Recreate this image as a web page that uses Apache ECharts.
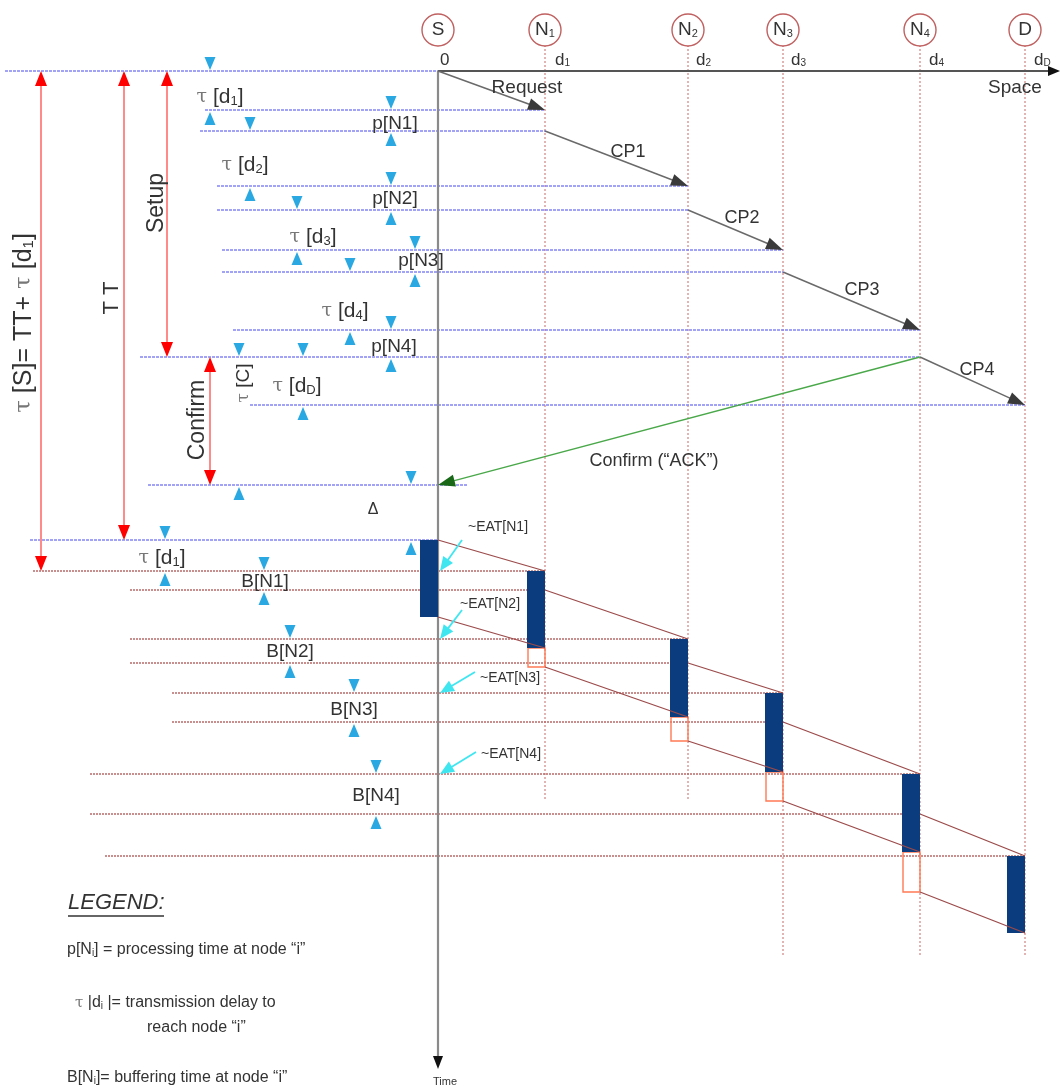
<!DOCTYPE html>
<html>
<head>
<meta charset="utf-8">
<script src="https://cdn.jsdelivr.net/npm/echarts@6.0.0/dist/echarts.min.js"></script>
<style>
html,body{margin:0;padding:0;background:#ffffff;}
#chart{width:1061px;height:1091px;}
</style>
</head>
<body>
<div id="chart"></div>
<script>
// ================= DATA (space units along x, time units along y) =================
const nodeNames   = ['S', 'N{s|1}', 'N{s|2}', 'N{s|3}', 'N{s|4}', 'D'];
const distLabels  = ['0', 'd{s|1}', 'd{s|2}', 'd{s|3}', 'd{s|4}', 'd{s|D}'];
const nodeDist    = [0, 107, 250, 345, 482, 587];
const nodeLineEnd = [997, 729, 729, 884, 884, 884];

// call set-up phase
const setupDepart = [0, 60, 139, 201, 286];    // S..N4 : message leaves the node
const setupArrive = [39, 115, 179, 259, 334];  // N1..D : message reaches the node
const setupLabels = ['Request', 'CP1', 'CP2', 'CP3', 'CP4'];
const ackSent     = 286;
const ackArrive   = 414;
const ackLabel    = 'Confirm (“ACK”)';
const ttEnd       = 469;
const tauSEnd     = 500;

// data transfer phase
const burstStart  = [469, 500, 568, 622, 703, 785];
const burstEnd    = [546, 577, 646, 701, 781, 862];
const buffering   = [0, 19, 24, 29, 40, 0];
const dataDepart  = [469, 519, 592, 651, 743];

// labels
const tauLabels   = ['{t|τ} [d{s|1}]', '{t|τ} [d{s|2}]', '{t|τ} [d{s|3}]', '{t|τ} [d{s|4}]', '{t|τ} [d{s|D}]'];
const procLabels  = ['p[N1]', 'p[N2]', 'p[N3]', 'p[N4]'];
const bufLabels   = ['B[N1]', 'B[N2]', 'B[N3]', 'B[N4]'];
const eatLabels   = ['~EAT[N1]', '~EAT[N2]', '~EAT[N3]', '~EAT[N4]'];
const spanLabels  = ['{t|τ} [S]= TT+ {t|τ} [d{s|1}]', 'T T', 'Setup', 'Confirm', '{t|τ} [C]'];
const axisLabels  = ['Space', 'Time'];
const gapLabels   = ['Δ', '{t|τ} [d{s|1}]'];
const legendTitle = 'LEGEND:';
const legendLines = ['p[N{s|i}] = processing time at node “i”', '{t|τ} |d{s|i} |= transmission delay to', 'reach node “i”', 'B[N{s|i}]= buffering time at node “i”'];

// ================= LAYOUT (positions of annotations, in the same axis units) =================
const blueLeft   = [-433, -233, -238, -221, -221, -216, -216, -205, -298, -188, -290, -408];
const ackLineRight = 30;
const brownLeft  = [-405, -308, -308, -308, -266, -266, -348, -348, -333];
const dimX       = [-228, -47, -188, -47, -141, -23, -88, -47, -135, -199, -27, -273, -174, -148, -84, -62];
const redDimX    = [-397, -314, -271, -228];
const setupLabelPos = [[89, 17], [190, 81], [304, 147], [424, 219], [539, 299]];
const ackLabelPos   = [216, 390];
const tauLabelPos   = [[-218, 26], [-193, 94], [-125, 166], [-93, 240], [-141, 315]];
const procLabelPos  = [[-43, 53], [-43, 128], [-17, 190], [-44, 276]];
const bufLabelPos   = [[-173, 511], [-148, 581], [-84, 639], [-62, 725]];
const eatLabelPos   = [[60, 456], [52, 533], [72, 607], [73, 683]];
const eatArrowStart = [[24, 469], [24, 539], [37, 601], [38, 681]];
const spanLabelPos  = [[-414, 252], [-326, 227], [-281, 132], [-240, 349], [-194, 312]];
const spanLabelSize = [25, 22, 23, 23, 19];
const axisLabelPos  = [[577, 17], [7, 1011]];
const gapLabelPos   = [[-65, 439], [-276, 487]];
const distLabelOff  = [2, 10, 8, 8, 9, 9];
const circleT = -41, distLabelT = -11;
const legendPos = [[-370, 832], [-371, 879], [-363, 932], [-291, 957], [-371, 1007]];
const legendUnderline = [-370, -274, 845];
const spaceAxisEnd = 622, timeAxisEnd = 998;

// ================= BUILD =================
const FONT = '"Liberation Sans", Arial, sans-serif';
const BLUE_LINE = '#8585f2', BROWN_LINE = '#b86a6a', NODE_LINE = '#c86a6a';
const TRI = '#2aa8e2', BAR = '#0b3d7e';

function rich(size) {
  return {
    t: { fontSize: Math.round(size * 0.92), fontFamily: '"DejaVu Serif", "Liberation Serif", serif', fill: '#777' },
    s: { fontSize: Math.round(size * 0.6), verticalAlign: 'bottom', fontFamily: FONT }
  };
}
function arrowEls(p0, p1, o) {
  const dx = p1[0] - p0[0], dy = p1[1] - p0[1];
  const L = Math.hypot(dx, dy), ux = dx / L, uy = dy / L;
  const bx = p1[0] - ux * o.hl, by = p1[1] - uy * o.hl;
  const nx = -uy, ny = ux;
  const els = [];
  if (o.line !== false) els.push({ type: 'line', shape: { x1: p0[0], y1: p0[1], x2: bx + ux * 1, y2: by + uy * 1 }, style: { stroke: o.stroke, lineWidth: o.lw } });
  els.push({ type: 'polygon', shape: { points: [[p1[0], p1[1]], [bx + nx * o.hw / 2, by + ny * o.hw / 2], [bx - nx * o.hw / 2, by - ny * o.hw / 2]] }, style: { fill: o.head } });
  return els;
}

// horizontal reference lines
const blueTimes = [setupDepart[0], setupArrive[0], setupDepart[1], setupArrive[1], setupDepart[2], setupArrive[2], setupDepart[3], setupArrive[3], setupDepart[4], setupArrive[4], ackArrive, ttEnd];
const blueRight = [nodeDist[0], nodeDist[1], nodeDist[1], nodeDist[2], nodeDist[2], nodeDist[3], nodeDist[3], nodeDist[4], nodeDist[4], nodeDist[5], ackLineRight, nodeDist[0]];
const blueRows = blueTimes.map((t, i) => [blueLeft[i], t, blueRight[i]]);

const brownTimes = [burstStart[1], dataDepart[1], burstStart[2], dataDepart[2], burstStart[3], dataDepart[3], burstStart[4], dataDepart[4], burstStart[5]];
const brownRight = [nodeDist[1], nodeDist[1], nodeDist[2], nodeDist[2], nodeDist[3], nodeDist[3], nodeDist[4], nodeDist[4], nodeDist[5]];
const brownRows = brownTimes.map((t, i) => [brownLeft[i], t, brownRight[i]]);

// dimension markers (pairs of triangles)
const dimSpans = [
  [0, setupArrive[0]], [setupArrive[0], setupDepart[1]], [setupDepart[1], setupArrive[1]], [setupArrive[1], setupDepart[2]],
  [setupDepart[2], setupArrive[2]], [setupArrive[2], setupDepart[3]], [setupDepart[3], setupArrive[3]], [setupArrive[3], setupDepart[4]],
  [setupDepart[4], setupArrive[4]], [ackSent, ackArrive], [ackArrive, ttEnd], [ttEnd, tauSEnd],
  [burstStart[1], dataDepart[1]], [burstStart[2], dataDepart[2]], [burstStart[3], dataDepart[3]], [burstStart[4], dataDepart[4]]
];
const dimRows = dimSpans.map((s, i) => [dimX[i], s[0], s[1]]);
const redRows = [[redDimX[0], 0, tauSEnd], [redDimX[1], 0, ttEnd], [redDimX[2], 0, setupDepart[4]], [redDimX[3], setupDepart[4], ackArrive]];

// setup arrows
const setupRows = setupDepart.map((t, i) => [nodeDist[i], t, nodeDist[i + 1], setupArrive[i]]);

// bars / buffers / diagonals
const barRows = nodeDist.map((x, i) => [x, burstStart[i], burstEnd[i]]);
const bufRows = [];
for (let i = 1; i <= 4; i++) bufRows.push([nodeDist[i], burstEnd[i], burstEnd[i] + buffering[i]]);
const diagRows = [];
for (let i = 0; i < 5; i++) {
  diagRows.push([nodeDist[i], dataDepart[i], nodeDist[i + 1], burstStart[i + 1]]);
  diagRows.push([nodeDist[i], burstEnd[i] + buffering[i], nodeDist[i + 1], burstEnd[i + 1]]);
}
const eatRows = eatArrowStart.map((p, i) => [p[0], p[1], 2, burstStart[i + 1]]);

// texts
const texts = [];
function addText(pos, text, o) { texts.push(Object.assign({ x: pos[0], t: pos[1], text: text }, o || {})); }
setupLabels.forEach((s, i) => addText(setupLabelPos[i], s, { size: i === 0 ? 19 : 18 }));
addText(ackLabelPos, ackLabel, { size: 18 });
tauLabels.forEach((s, i) => addText(tauLabelPos[i], s, { size: 21 }));
procLabels.forEach((s, i) => addText(procLabelPos[i], s, { size: 19 }));
bufLabels.forEach((s, i) => addText(bufLabelPos[i], s, { size: 19 }));
eatLabels.forEach((s, i) => addText(eatLabelPos[i], s, { size: 14 }));
spanLabels.forEach((s, i) => addText(spanLabelPos[i], s, { size: spanLabelSize[i], rot: true }));
addText(axisLabelPos[0], axisLabels[0], { size: 19 });
addText(axisLabelPos[1], axisLabels[1], { size: 11 });
addText(gapLabelPos[0], gapLabels[0], { size: 16 });
addText(gapLabelPos[1], gapLabels[1], { size: 21 });
distLabels.forEach((s, i) => addText([nodeDist[i] + distLabelOff[i], distLabelT], s, { size: 17, align: 'left' }));
addText(legendPos[0], legendTitle, { size: 22, align: 'left', italic: true });
legendLines.forEach((s, i) => addText(legendPos[i + 1], s, { size: 16, align: 'left' }));

function custom(data, render, z) {
  return { type: 'custom', coordinateSystem: 'cartesian2d', data: data, renderItem: render, z: z || 2, silent: true, animation: false };
}

const option = {
  animation: false,
  backgroundColor: '#ffffff',
  grid: { left: 0, right: 0, top: 0, bottom: 0 },
  xAxis: { type: 'value', min: -438, max: 623, show: false },
  yAxis: { type: 'value', min: -71, max: 1020, inverse: true, show: false },
  series: [
    // node time-lines
    custom(nodeDist.map((x, i) => [x, nodeLineEnd[i]]).slice(1), function (params, api) {
      const p0 = api.coord([api.value(0), -26]);
      const p1 = api.coord([api.value(0), api.value(1)]);
      return { type: 'line', shape: { x1: p0[0], y1: p0[1], x2: p1[0], y2: p1[1] }, style: { stroke: NODE_LINE, lineWidth: 1, lineDash: [2, 2] } };
    }, 1),
    // blue set-up reference lines
    custom(blueRows, function (params, api) {
      const p0 = api.coord([api.value(0), api.value(1)]);
      const p1 = api.coord([api.value(2), api.value(1)]);
      return { type: 'line', shape: { x1: p0[0], y1: p0[1], x2: p1[0], y2: p1[1] }, style: { stroke: BLUE_LINE, lineWidth: 1.6, lineDash: [3, 1] } };
    }, 2),
    // brown data-phase reference lines
    custom(brownRows, function (params, api) {
      const p0 = api.coord([api.value(0), api.value(1)]);
      const p1 = api.coord([api.value(2), api.value(1)]);
      return { type: 'line', shape: { x1: p0[0], y1: p0[1], x2: p1[0], y2: p1[1] }, style: { stroke: BROWN_LINE, lineWidth: 1.4, lineDash: [2, 1] } };
    }, 2),
    // axes
    custom([[0, 0]], function (params, api) {
      const o = api.coord([0, 0]);
      const sx = api.coord([spaceAxisEnd, 0]);
      const ty = api.coord([0, timeAxisEnd]);
      return { type: 'group', children: [].concat(
        arrowEls(o, sx, { hl: 12, hw: 10, stroke: '#555', head: '#111', lw: 2.2 }),
        arrowEls(o, ty, { hl: 13, hw: 10, stroke: '#8a8a8a', head: '#111', lw: 2.2 })
      ) };
    }, 3),
    // buffer boxes
    custom(bufRows, function (params, api) {
      const p0 = api.coord([api.value(0), api.value(1)]);
      const p1 = api.coord([api.value(0), api.value(2)]);
      return { type: 'rect', shape: { x: p0[0] - 17, y: p0[1], width: 17, height: p1[1] - p0[1] }, style: { fill: 'none', stroke: '#ff7a55', lineWidth: 1.4 } };
    }, 4),
    // transfer bars
    custom(barRows, function (params, api) {
      const p0 = api.coord([api.value(0), api.value(1)]);
      const p1 = api.coord([api.value(0), api.value(2)]);
      return { type: 'rect', shape: { x: p0[0] - 18, y: p0[1], width: 18, height: p1[1] - p0[1] }, style: { fill: BAR } };
    }, 4),
    // diagonals
    custom(diagRows, function (params, api) {
      const p0 = api.coord([api.value(0), api.value(1)]);
      const p1 = api.coord([api.value(2), api.value(3)]);
      return { type: 'line', shape: { x1: p0[0], y1: p0[1], x2: p1[0], y2: p1[1] }, style: { stroke: '#9c4a4a', lineWidth: 1.3 } };
    }, 5),
    // set-up arrows
    custom(setupRows, function (params, api) {
      const p0 = api.coord([api.value(0), api.value(1)]);
      const p1 = api.coord([api.value(2), api.value(3)]);
      return { type: 'group', children: arrowEls(p0, p1, { hl: 17, hw: 12, stroke: '#6a6a6a', head: '#3a3a3a', lw: 1.5 }) };
    }, 6),
    // ACK arrow
    custom([[nodeDist[4], ackSent, nodeDist[0], ackArrive]], function (params, api) {
      const p0 = api.coord([api.value(0), api.value(1)]);
      const p1 = api.coord([api.value(2), api.value(3)]);
      return { type: 'group', children: arrowEls(p0, p1, { hl: 17, hw: 12, stroke: '#4aa84a', head: '#186818', lw: 1.5 }) };
    }, 6),
    // EAT arrows
    custom(eatRows, function (params, api) {
      const p0 = api.coord([api.value(0), api.value(1)]);
      const p1 = api.coord([api.value(2), api.value(3)]);
      return { type: 'group', children: arrowEls(p0, p1, { hl: 14, hw: 12, stroke: '#3fe6f0', head: '#3fe6f0', lw: 1.8 }) };
    }, 6),
    // red span arrows
    custom(redRows, function (params, api) {
      const p0 = api.coord([api.value(0), api.value(1)]);
      const p1 = api.coord([api.value(0), api.value(2)]);
      const o = { hl: 15, hw: 12, stroke: '#ff8a8a', head: '#ff0000', lw: 2 };
      return { type: 'group', children: [
        { type: 'line', shape: { x1: p0[0], y1: p0[1] + 10, x2: p1[0], y2: p1[1] - 10 }, style: { stroke: o.stroke, lineWidth: o.lw } }
      ].concat(arrowEls([p0[0], p0[1] + 40], p0, Object.assign({ line: false }, o)), arrowEls([p1[0], p1[1] - 40], p1, Object.assign({ line: false }, o))) };
    }, 6),
    // blue dimension triangles
    custom(dimRows, function (params, api) {
      const a = api.coord([api.value(0), api.value(1)]);
      const b = api.coord([api.value(0), api.value(2)]);
      const w = 11, h = 13;
      return { type: 'group', children: [
        { type: 'polygon', shape: { points: [[a[0], a[1] - 1], [a[0] - w / 2, a[1] - 1 - h], [a[0] + w / 2, a[1] - 1 - h]] }, style: { fill: TRI } },
        { type: 'polygon', shape: { points: [[b[0], b[1] + 2], [b[0] - w / 2, b[1] + 2 + h], [b[0] + w / 2, b[1] + 2 + h]] }, style: { fill: TRI } }
      ] };
    }, 7),
    // node circles
    custom(nodeDist.map(x => [x, circleT]), function (params, api) {
      const p = api.coord([api.value(0), api.value(1)]);
      return { type: 'group', children: [
        { type: 'circle', shape: { cx: p[0], cy: p[1], r: 16 }, style: { fill: '#fff', stroke: '#c06060', lineWidth: 1.4 } },
        { type: 'text', x: p[0], y: p[1], style: { text: nodeNames[params.dataIndex], fontSize: 19, fontFamily: FONT, fill: '#333', align: 'center', verticalAlign: 'middle', rich: rich(19) } }
      ] };
    }, 8),
    // legend underline
    custom([[legendUnderline[0], legendUnderline[2], legendUnderline[1]]], function (params, api) {
      const p0 = api.coord([api.value(0), api.value(1)]);
      const p1 = api.coord([api.value(2), api.value(1)]);
      return { type: 'line', shape: { x1: p0[0], y1: p0[1], x2: p1[0], y2: p1[1] }, style: { stroke: '#333', lineWidth: 1.4 } };
    }, 8),
    // all texts
    custom(texts.map(d => [d.x, d.t]), function (params, api) {
      const d = texts[params.dataIndex];
      const p = api.coord([api.value(0), api.value(1)]);
      const size = d.size || 16;
      return {
        type: 'text', x: p[0], y: p[1], rotation: d.rot ? Math.PI / 2 : 0,
        style: {
          text: d.text, fontSize: size, fontFamily: FONT, fontStyle: d.italic ? 'italic' : 'normal',
          fill: d.color || '#333', align: d.align || 'center', verticalAlign: 'middle', rich: rich(size)
        }
      };
    }, 9)
  ]
};

const chart = echarts.init(document.getElementById('chart'), null, { renderer: 'canvas' });
chart.setOption(option);
</script>
</body>
</html>
